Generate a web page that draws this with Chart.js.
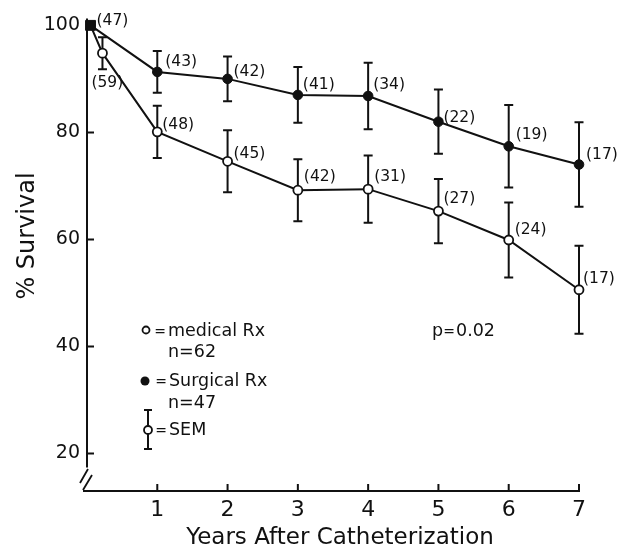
<!DOCTYPE html>
<html>
<head>
<meta charset="utf-8">
<script src="https://cdn.jsdelivr.net/npm/chart.js@4/dist/chart.umd.min.js"></script>
<style>
  html, body { margin: 0; padding: 0; background: #fff; }
  #wrap { width: 619px; height: 552px; }
</style>
</head>
<body>
<div id="wrap"><canvas id="c" width="619" height="552"></canvas></div>
<script>
// Survival after catheterization, surgical vs medical treatment (% survival, SEM, patients at risk)
const surgicalYears    = [0.05, 1, 2, 3, 4, 5, 6, 7];
const surgicalSurvival = [100, 91.3, 90.0, 87.0, 86.8, 82.0, 77.4, 74.0];
const surgicalSEM      = [null, 3.9, 4.2, 5.2, 6.2, 6.0, 7.7, 7.9];
const surgicalN        = [47, 43, 42, 41, 34, 22, 19, 17];

const medicalYears    = [0.05, 0.22, 1, 2, 3, 4, 5, 6, 7];
const medicalSurvival = [100, 94.8, 80.1, 74.6, 69.2, 69.4, 65.3, 59.9, 50.6];
const medicalSEM      = [null, 3.0, 4.9, 5.8, 5.8, 6.3, 6.0, 7.0, 8.2];
const medicalN        = [null, 59, 48, 45, 42, 31, 27, 24, 17];

const yTickValues = [20, 40, 60, 80, 100];
const xTickValues = [1, 2, 3, 4, 5, 6, 7];

const xTitle = 'Years After Catheterization';
const yTitle = '% Survival';
const pValue = '0.02';

// label placement (pixel offsets from each point, left edge / vertical middle)
const surgicalLabelOffsets = [[6,-4],[8,-10],[6,-7],[5,-10],[5,-11],[5,-4],[7,-11],[7,-10]];
const medicalLabelOffsets  = [null,[-11,30],[5,-7],[6,-7],[6,-13],[6,-12],[5,-12],[6,-10],[4,-11]];

const FONT = '"DejaVu Sans", "Liberation Sans", sans-serif';
const INK = '#111';

function toPoints(xs, ys) { return xs.map((x, i) => ({ x: x, y: ys[i] })); }

const figurePlugin = {
  id: 'figure',
  beforeDatasetsDraw(chart) {
    const ctx = chart.ctx;
    const xs = chart.scales.x, ys = chart.scales.y;
    const x0 = xs.getPixelForValue(0);
    const y0 = ys.getPixelForValue(ys.min);
    const yTop = ys.getPixelForValue(ys.max);
    const xEnd = xs.getPixelForValue(7);
    ctx.save();
    ctx.strokeStyle = INK;
    ctx.lineWidth = 2;
    ctx.lineCap = 'butt';
    // vertical axis with a break near its foot
    const yBreak = ys.getPixelForValue(17.4);
    ctx.beginPath();
    ctx.moveTo(x0, yTop);
    ctx.lineTo(x0, yBreak);
    ctx.stroke();
    ctx.lineWidth = 1.8;
    ctx.beginPath();
    ctx.moveTo(x0 - 7, y0 - 8);  ctx.lineTo(x0 + 1, y0 - 22);
    ctx.moveTo(x0 - 4, y0 - 1);  ctx.lineTo(x0 + 5, y0 - 16);
    ctx.stroke();
    ctx.lineWidth = 2;
    // horizontal axis
    ctx.beginPath();
    ctx.moveTo(x0 - 4, y0);
    ctx.lineTo(xEnd + 1, y0);
    ctx.stroke();
    // inward tick marks
    ctx.beginPath();
    yTickValues.forEach(v => {
      const py = ys.getPixelForValue(v);
      ctx.moveTo(x0, py); ctx.lineTo(x0 + 7, py);
    });
    xTickValues.forEach(v => {
      const px = xs.getPixelForValue(v);
      ctx.moveTo(px, y0); ctx.lineTo(px, y0 - 7);
    });
    ctx.stroke();
    // SEM error bars
    const cap = 4.5;
    function bars(xv, yv, sem) {
      ctx.beginPath();
      xv.forEach((x, i) => {
        if (sem[i] == null) return;
        const px = xs.getPixelForValue(x);
        const hi = ys.getPixelForValue(yv[i] + sem[i]);
        const lo = ys.getPixelForValue(yv[i] - sem[i]);
        ctx.moveTo(px, hi); ctx.lineTo(px, lo);
        ctx.moveTo(px - cap, hi); ctx.lineTo(px + cap, hi);
        ctx.moveTo(px - cap, lo); ctx.lineTo(px + cap, lo);
      });
      ctx.stroke();
    }
    bars(surgicalYears, surgicalSurvival, surgicalSEM);
    bars(medicalYears, medicalSurvival, medicalSEM);
    ctx.restore();
  },
  afterDatasetsDraw(chart) {
    const ctx = chart.ctx;
    const xs = chart.scales.x, ys = chart.scales.y;
    ctx.save();
    ctx.fillStyle = INK;
    ctx.strokeStyle = INK;
    // patients at risk next to each point
    ctx.font = '15.5px ' + FONT;
    ctx.textAlign = 'left';
    ctx.textBaseline = 'middle';
    function counts(xv, yv, nv, offs) {
      xv.forEach((x, i) => {
        if (nv[i] == null) return;
        const px = xs.getPixelForValue(x), py = ys.getPixelForValue(yv[i]);
        const o = offs[i];
        ctx.fillText('(' + nv[i] + ')', px + o[0], py + o[1]);
      });
    }
    counts(surgicalYears, surgicalSurvival, surgicalN, surgicalLabelOffsets);
    counts(medicalYears, medicalSurvival, medicalN, medicalLabelOffsets);

    const TEXT = '17.5px ' + FONT;
    const EQ = '14px ' + FONT;
    function eq(cx, cy) {
      ctx.font = EQ;
      ctx.textAlign = 'center';
      ctx.fillText('=', cx, cy);
      ctx.textAlign = 'left';
      ctx.font = TEXT;
    }

    // key
    ctx.font = TEXT;
    ctx.lineWidth = 1.8;
    ctx.fillStyle = '#fff';
    ctx.beginPath(); ctx.arc(146, 330, 3.5, 0, Math.PI * 2); ctx.fill(); ctx.stroke();
    ctx.fillStyle = INK;
    eq(160, 332);
    ctx.fillText('medical Rx', 168, 331);
    ctx.fillText('n=62', 168, 352);
    ctx.beginPath(); ctx.arc(145, 381, 4.5, 0, Math.PI * 2); ctx.fill();
    eq(161, 382);
    ctx.fillText('Surgical Rx', 169, 381);
    ctx.fillText('n=47', 168, 403);
    ctx.lineWidth = 2;
    ctx.beginPath();
    ctx.moveTo(148, 410); ctx.lineTo(148, 449);
    ctx.moveTo(144, 410); ctx.lineTo(152, 410);
    ctx.moveTo(144, 449); ctx.lineTo(152, 449);
    ctx.stroke();
    ctx.fillStyle = '#fff';
    ctx.lineWidth = 1.8;
    ctx.beginPath(); ctx.arc(148, 430, 4, 0, Math.PI * 2); ctx.fill(); ctx.stroke();
    ctx.fillStyle = INK;
    eq(161, 431);
    ctx.fillText('SEM', 169, 430);

    // significance
    ctx.fillText('p', 432, 331);
    eq(449, 332);
    ctx.fillText(pValue, 456, 331);

    // axis titles
    ctx.textAlign = 'center';
    ctx.font = '23px ' + FONT;
    ctx.fillText(xTitle, 340, 538);
    ctx.save();
    ctx.translate(28, 236);
    ctx.rotate(-Math.PI / 2);
    ctx.font = '24px ' + FONT;
    ctx.fillText(yTitle, 0, 0);
    ctx.restore();
    ctx.restore();
  }
};

new Chart(document.getElementById('c'), {
  type: 'line',
  data: {
    datasets: [
      {
        label: 'Surgical Rx',
        data: toPoints(surgicalYears, surgicalSurvival),
        borderColor: INK,
        borderWidth: 2,
        backgroundColor: INK,
        pointBackgroundColor: INK,
        pointBorderColor: INK,
        pointBorderWidth: 1,
        pointStyle: surgicalYears.map((x, i) => i === 0 ? 'rect' : 'circle'),
        pointRadius: surgicalYears.map((x, i) => i === 0 ? 7 : 4.8),
        tension: 0,
        clip: false
      },
      {
        label: 'medical Rx',
        data: toPoints(medicalYears, medicalSurvival),
        borderColor: INK,
        borderWidth: 2,
        backgroundColor: '#fff',
        pointBackgroundColor: '#fff',
        pointBorderColor: INK,
        pointBorderWidth: 1.8,
        pointStyle: 'circle',
        pointRadius: medicalYears.map((x, i) => i === 0 ? 0 : 4.5),
        tension: 0,
        clip: false
      }
    ]
  },
  options: {
    responsive: false,
    animation: false,
    events: [],
    layout: { padding: { top: 15, right: 40, left: 0, bottom: 0 } },
    plugins: { legend: { display: false }, tooltip: { enabled: false } },
    scales: {
      x: {
        type: 'linear',
        min: 0,
        max: 7,
        afterBuildTicks: s => { s.ticks = xTickValues.map(v => ({ value: v })); },
        afterFit: s => { s.height = 61; },
        grid: { display: false, drawTicks: false },
        border: { display: false },
        ticks: { color: INK, font: { family: FONT, size: 22 }, padding: 6, maxRotation: 0 }
      },
      y: {
        type: 'linear',
        min: 13,
        max: 101.3,
        afterBuildTicks: s => { s.ticks = yTickValues.map(v => ({ value: v })); },
        afterFit: s => { s.width = 87; },
        grid: { display: false, drawTicks: false },
        border: { display: false },
        ticks: { color: INK, font: { family: FONT, size: 19 }, padding: 7 }
      }
    }
  },
  plugins: [figurePlugin]
});
</script>
</body>
</html>
